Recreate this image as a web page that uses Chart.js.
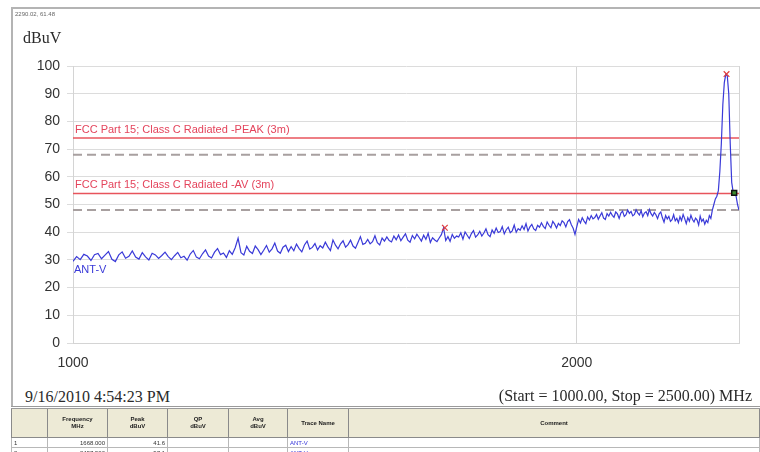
<!DOCTYPE html>
<html>
<head>
<meta charset="utf-8">
<script src="https://cdn.jsdelivr.net/npm/chart.js@4.4.1/dist/chart.umd.min.js"></script>
<style>
	html, body { margin: 0; padding: 0; background: #fff; }
	#page { position: relative; width: 760px; height: 452px; overflow: hidden; font-family: "Liberation Sans", Arial, sans-serif; }
	#plot { position: absolute; left: 0; top: 0; }
	.frame-top { position: absolute; left: 11px; top: 7px; width: 749px; height: 2px; background: #b4b4b4; }
	.frame-left { position: absolute; left: 11px; top: 7px; width: 2px; height: 400px; background: #b4b4b4; }
	.txt { position: absolute; white-space: nowrap; }
	.serif { font-family: "Liberation Serif", "Times New Roman", serif; color: #2a2a2a; }
	#cursor { left: 15px; top: 11px; font-size: 6px; color: #666; }
	#unit { left: 23px; top: 29px; font-size: 16px; }
	#stamp { left: 25px; top: 388px; font-size: 16px; }
	#span { right: 8px; top: 387px; font-size: 16px; }
	#markers { position: absolute; left: 11px; top: 406px; width: 749px; border-collapse: collapse; table-layout: fixed; border-top: 3px double #9a9a9a; }
	#markers th { background: #edead6; font-size: 6px; font-weight: bold; height: 26px; border: 1px solid #8a8a8a; color: #222; line-height: 7px; }
	#markers td { font-size: 6px; height: 9px; border: 1px solid #b8b8b8; padding: 0 2px; color: #333; }
	#markers td.num { text-align: right; }
	#markers td.blue { color: #3535d8; }
</style>
</head>
<body>
<div id="page">
	<canvas id="plot" width="760" height="380"></canvas>
	<div class="frame-top"></div>
	<div class="frame-left"></div>
	<div class="txt" id="cursor">2290.02, 61.48</div>
	<div class="txt serif" id="unit">dBuV</div>
	<div class="txt serif" id="stamp">9/16/2010 4:54:23 PM</div>
	<div class="txt serif" id="span">(Start = 1000.00, Stop = 2500.00) MHz</div>
	<table id="markers">
		<colgroup>
			<col style="width:36px"><col style="width:60px"><col style="width:60px"><col style="width:61px">
			<col style="width:59px"><col style="width:61px"><col>
		</colgroup>
		<thead>
			<tr><th></th><th>Frequency<br>MHz</th><th>Peak<br>dBuV</th><th>QP<br>dBuV</th><th>Avg<br>dBuV</th><th>Trace Name</th><th>Comment</th></tr>
		</thead>
		<tbody id="markerRows"></tbody>
	</table>
</div>
<script>
// sweep settings (MHz)
var sweepStart = 1000;
var sweepStop = 2500;
var sweepStep = 5;

// trace ANT-V, dBuV, one value per sweep step
var traceName = 'ANT-V';
var traceLevels = [
	29.5, 31.2, 30.1, 32.0, 31.4, 29.8, 31.9, 32.3, 30.4, 31.7,
	33.0, 30.2, 29.4, 31.8, 32.9, 30.6, 31.3, 33.2, 31.0, 30.3,
	32.6, 31.1, 30.0, 32.4, 31.8, 30.5, 31.6, 32.8, 31.2, 30.1,
	31.5, 32.7, 30.8, 31.3, 29.9, 32.1, 33.4, 31.0, 30.4, 32.2,
	33.6, 31.4, 30.7, 32.8, 34.1, 31.9, 32.5, 30.9, 33.3, 32.0,
	34.4, 37.8, 32.6, 31.8, 34.9, 33.1, 32.3, 35.0, 33.7, 31.9,
	33.5, 35.2, 32.8, 34.0, 36.1, 33.2, 32.4, 34.6, 35.3, 33.0,
	34.8, 33.3, 35.7, 34.1, 32.9, 35.4, 36.8, 33.9, 34.5, 35.9,
	33.6, 35.1, 34.3, 36.4, 34.7, 33.4, 37.2, 35.3, 34.0, 35.8,
	36.9, 34.6, 35.5, 37.1, 35.0, 34.2, 36.3, 38.4, 35.6, 36.0,
	37.4, 35.8, 36.6, 38.7, 36.2, 35.4, 37.9, 36.8, 38.3, 37.0,
	36.5, 38.6, 37.3, 39.0, 36.9, 38.2, 39.4, 37.1, 36.4, 38.8,
	37.6, 39.3, 38.1, 36.8, 38.9, 37.4, 39.6, 36.3, 38.0, 37.2,
	36.6, 37.9, 39.1, 41.6, 37.0, 38.4, 36.7, 39.2, 37.8, 38.6,
	38.3, 39.8, 37.5, 40.1, 38.9, 37.7, 39.5, 40.6, 38.2, 39.0,
	40.3, 38.6, 39.7, 41.2, 39.1, 38.4, 40.8, 39.6, 41.5, 39.9,
	40.2, 42.0, 39.4, 40.9, 41.8, 39.8, 40.5, 42.6, 40.0, 41.3,
	40.7, 42.3, 41.0, 43.1, 40.4, 41.9, 42.8, 41.2, 40.6, 42.5,
	41.8, 43.4, 42.1, 41.3, 43.7, 42.5, 41.6, 43.9, 42.9, 41.5,
	43.2, 42.4, 44.1, 43.5, 41.9, 43.8, 44.5, 42.7, 41.4, 39.2,
	42.0, 44.6, 43.3, 45.2, 44.0, 43.1, 45.5, 44.4, 46.0, 44.8,
	45.3, 46.4, 44.7, 45.9, 47.0, 45.1, 44.6, 46.7, 45.8, 47.2,
	46.1, 45.4, 47.3, 46.6, 45.0, 46.9, 47.6, 45.7, 46.3, 48.0,
	46.8, 47.5, 45.9, 46.4, 48.1, 47.0, 46.2, 47.8, 45.6, 46.9,
	47.4, 46.0, 48.2, 46.7, 45.8, 47.1, 46.3, 44.9, 46.6, 47.3,
	45.2, 43.6, 46.0, 44.8, 45.7, 43.9, 44.5, 46.3, 44.1, 45.0,
	43.4, 45.6, 44.2, 46.4, 44.9, 43.1, 45.3, 44.0, 46.1, 44.6,
	43.7, 45.1, 44.4, 42.6, 45.8, 43.9, 44.7, 42.9, 44.3, 43.5,
	46.0, 45.0, 48.0, 50.0, 52.0, 53.0, 55.0, 62.0, 72.0, 86.0,
	94.0, 97.0, 96.5, 90.0, 72.0, 58.0, 54.5, 54.0, 53.0, 50.0,
	48.0
];

// limit and margin lines
var limitNames = ['FCC Part 15; Class C Radiated -PEAK (3m)', 'FCC Part 15; Class C Radiated -AV (3m)'];
var limitLevels = [74, 54];
var marginLevels = [68, 48];

// markers (table rows)
var markerFreqs = [1668.000, 2457.500, 2483.500];
var markerPeaks = [41.6, 97.1, 54.2];
var markerStyles = ['crossRot', 'crossRot', 'rect'];

// axes
var xTickValues = [1000, 2000];
var yMin = 0, yMax = 100, yStep = 10;

var tracePoints = traceLevels.map(function(v, i) {
	return { x: sweepStart + i * sweepStep, y: v };
});

var lineDataset = function(level, color, dash, width) {
	return {
		data: [{ x: sweepStart, y: level }, { x: sweepStop, y: level }],
		borderColor: color,
		borderWidth: width,
		borderDash: dash,
		pointRadius: 0,
		order: 3
	};
};

var overlayPlugin = {
	id: 'overlay',
	afterDatasetsDraw: function(chart) {
		var ctx = chart.ctx, area = chart.chartArea, y = chart.scales.y;
		ctx.save();
		ctx.strokeStyle = '#d4d4d4';
		ctx.lineWidth = 1;
		ctx.beginPath();
		ctx.moveTo(area.right + 0.5, area.top);
		ctx.lineTo(area.right + 0.5, area.bottom);
		ctx.stroke();

		ctx.font = '11px "Liberation Sans", Arial, sans-serif';
		ctx.textBaseline = 'middle';
		ctx.fillStyle = '#e4445c';
		limitNames.forEach(function(name, i) {
			ctx.fillText(name, area.left + 2, y.getPixelForValue(limitLevels[i]) - 8);
		});
		ctx.fillStyle = '#3a3ad8';
		ctx.fillText(traceName, area.left + 1, y.getPixelForValue(traceLevels[0]) + 9);
		ctx.restore();
	}
};

var datasets = [{
	data: tracePoints,
	borderColor: '#3a3ad8',
	borderWidth: 1.2,
	pointRadius: 0,
	order: 1
}];
markerFreqs.forEach(function(f, i) {
	var isRect = markerStyles[i] === 'rect';
	datasets.push({
		data: [{ x: f, y: markerPeaks[i] }],
		showLine: false,
		pointStyle: markerStyles[i],
		pointRadius: isRect ? 3.5 : 4,
		pointBackgroundColor: isRect ? '#3d8a2e' : '#e23c3c',
		pointBorderColor: isRect ? '#111' : '#e23c3c',
		pointBorderWidth: isRect ? 1.5 : 1.2,
		order: 0
	});
});
limitLevels.forEach(function(l) { datasets.push(lineDataset(l, '#e8545c', [], 1.5)); });
marginLevels.forEach(function(l) { datasets.push(lineDataset(l, '#a8a0a0', [9, 5], 2)); });

new Chart(document.getElementById('plot'), {
	type: 'line',
	data: { datasets: datasets },
	options: {
		responsive: false,
		animation: false,
		events: [],
		layout: { padding: { left: 0, top: 66, right: 21, bottom: 0 } },
		plugins: { legend: { display: false }, tooltip: { enabled: false } },
		elements: { line: { tension: 0 } },
		scales: {
			x: {
				type: 'logarithmic',
				min: sweepStart,
				max: sweepStop,
				afterFit: function(scale) { scale.height = 37; },
				afterBuildTicks: function(scale) {
					scale.ticks = xTickValues.map(function(v) { return { value: v }; });
				},
				grid: { color: '#d4d4d4', drawTicks: false },
				border: { color: '#d4d4d4' },
				ticks: {
					autoSkip: false,
					maxRotation: 0,
					padding: 12,
					color: '#333',
					font: { family: '"Liberation Sans", Arial, sans-serif', size: 14 },
					callback: function(v) { return String(v); }
				}
			},
			y: {
				min: yMin,
				max: yMax,
				afterFit: function(scale) { scale.width = 73; },
				grid: { color: '#dcdcdc', tickLength: 6 },
				border: { color: '#d4d4d4' },
				ticks: {
					stepSize: yStep,
					padding: 7,
					color: '#333',
					font: { family: '"Liberation Sans", Arial, sans-serif', size: 14 }
				}
			}
		}
	},
	plugins: [overlayPlugin]
});

// marker table
var rows = document.getElementById('markerRows');
markerFreqs.forEach(function(f, i) {
	var tr = document.createElement('tr');
	tr.innerHTML = '<td>' + (i + 1) + '</td><td class="num">' + f.toFixed(3) + '</td><td class="num">' +
		markerPeaks[i].toFixed(1) + '</td><td></td><td></td><td class="blue">' + traceName + '</td><td></td>';
	rows.appendChild(tr);
});
</script>
</body>
</html>
